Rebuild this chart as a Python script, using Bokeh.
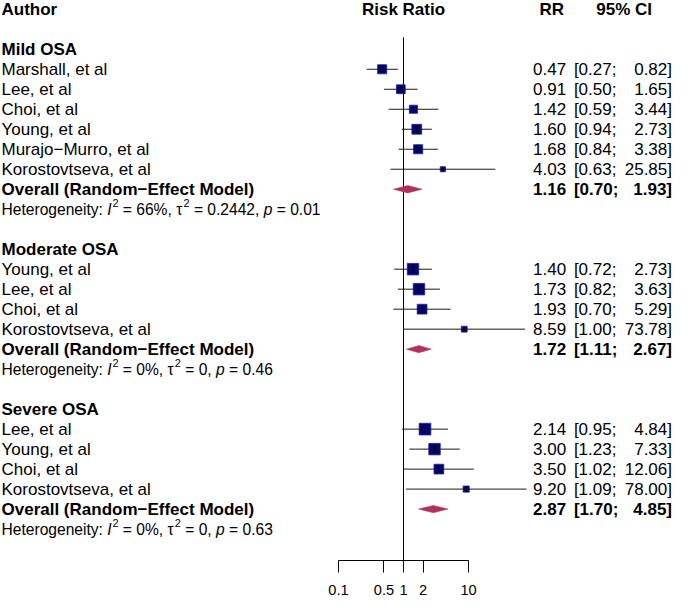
import numpy as np
from bokeh.plotting import figure
from bokeh.models import Range1d, FixedTicker, CustomJSTickFormatter
from bokeh.core.properties import value
from bokeh.embed import file_html
from bokeh.resources import INLINE

# ---------------- data ----------------
groups = ["Mild OSA", "Moderate OSA", "Severe OSA"]

mild_names = ["Marshall, et al", "Lee, et al", "Choi, et al", "Young, et al",
              "Murajo\u2212Murro, et al", "Korostovtseva, et al"]
mild_rr = [0.47, 0.91, 1.42, 1.60, 1.68, 4.03]
mild_lo = [0.27, 0.50, 0.59, 0.94, 0.84, 0.63]
mild_hi = [0.82, 1.65, 3.44, 2.73, 3.38, 25.85]
mild_w = [6.8, 6.3, 5.4, 7.8, 6.8, 2.2]

mod_names = ["Young, et al", "Lee, et al", "Choi, et al", "Korostovtseva, et al"]
mod_rr = [1.40, 1.73, 1.93, 8.59]
mod_lo = [0.72, 0.82, 0.70, 1.00]
mod_hi = [2.73, 3.63, 5.29, 73.78]
mod_w = [10.7, 10.7, 7.8, 2.8]

sev_names = ["Lee, et al", "Young, et al", "Choi, et al", "Korostovtseva, et al"]
sev_rr = [2.14, 3.00, 3.50, 9.20]
sev_lo = [0.95, 1.23, 1.02, 1.09]
sev_hi = [4.84, 7.33, 12.06, 78.00]
sev_w = [11.2, 10.7, 7.8, 3.1]

overall_rr = [1.16, 1.72, 2.87]
overall_lo = [0.70, 1.11, 1.70]
overall_hi = [1.93, 2.67, 4.85]

het_i2 = [66, 0, 0]
het_tau2 = [0.2442, 0, 0]
het_p = [0.01, 0.46, 0.63]

tick_values = [0.1, 0.5, 1, 2, 10]
tick_labels = ["0.1", "0.5", "1", "2", "10"]

# ---------------- layout constants ----------------
W, H = 673, 597
FH = 560.5          # expected frame height (axis panel below)
X1 = 403.0          # pixel of RR = 1
DEC = 65.05         # pixels per decade
ROW = 20.01         # pixels per row
ROW0 = 8.8          # pixel of row 0
LEFT = 1
RR_RIGHT = 565.6
CI_LEFT = 573.4
CI_RIGHT = 671.5
CI_HEAD = 623.7
FONT = "Liberation Sans"
FS = "17px"
HET_FS = 15.6
SUP_FS = 10.9
SQ_K = 3.5
DIAM_H = 3.7

def px2x(px):
    return 10 ** ((px - X1) / DEC)

AW = {' ': 278, ':': 278, ',': 278, '.': 278, '=': 584, '%': 889, 'H': 722,
      'e': 556, 't': 278, 'r': 333, 'o': 556, 'g': 556, 'n': 556, 'i': 222,
      'y': 500, 'I': 278, 'p': 556, '\u03c4': 470}

def tw(s, fs=HET_FS):
    return sum(AW.get(c, 556) for c in s) / 1000.0 * fs

r_top = -ROW0 / ROW
r_bot = (FH - ROW0) / ROW

p = figure(width=W, height=H, output_backend="svg", toolbar_location=None,
           x_axis_type="log", y_axis_location=None,
           x_range=Range1d(px2x(0), px2x(W)), y_range=Range1d(r_bot, r_top),
           min_border=0, min_border_left=0, min_border_right=0, min_border_top=0)
p.outline_line_color = None
p.grid.visible = False
p.background_fill_color = "white"
p.border_fill_color = "white"

ax = p.xaxis[0]
ax.ticker = FixedTicker(ticks=tick_values, minor_ticks=[])
ax.formatter = CustomJSTickFormatter(args=dict(labels=tick_labels, vals=tick_values),
                                     code="const i = vals.indexOf(tick); return i >= 0 ? labels[i] : String(tick);")
ax.bounds = (min(tick_values), max(tick_values))
ax.axis_line_color = "black"
ax.axis_line_width = 1
ax.major_tick_line_color = "black"
ax.major_tick_line_width = 1
ax.major_tick_in = 0
ax.major_tick_out = 12
ax.minor_tick_in = 0
ax.minor_tick_out = 0
ax.major_label_text_font = FONT
ax.major_label_text_font_size = "14.6px"
ax.major_label_text_color = "black"
ax.major_label_standoff = 12

# ---------------- rows ----------------
study_sets = [(mild_names, mild_rr, mild_lo, mild_hi, mild_w),
              (mod_names, mod_rr, mod_lo, mod_hi, mod_w),
              (sev_names, sev_rr, sev_lo, sev_hi, sev_w)]

group_rows, s_rows, s_names, s_rr, s_lo, s_hi, s_w = [], [], [], [], [], [], []
ov_rows, het_rows = [], []
r = 2
for names, rr, lo, hi, w in study_sets:
    group_rows.append(r)
    r += 1
    for i in range(len(names)):
        s_rows.append(r); s_names.append(names[i]); s_rr.append(rr[i])
        s_lo.append(lo[i]); s_hi.append(hi[i]); s_w.append(w[i])
        r += 1
    ov_rows.append(r); r += 1
    het_rows.append(r); r += 2

sides = [SQ_K * np.sqrt(w) for w in s_w]

def txt(xs, ys, texts, align="left", style="normal", size=FS, yoff=0):
    p.text(x=xs, y=ys, text=texts, text_font=value(FONT), text_font_size=size,
           text_font_style=style, text_align=align, text_baseline="middle",
           text_color="black", y_offset=yoff)

# reference line at RR = 1
p.segment(x0=[1], y0=[1.4], x1=[1], y1=[r_bot], line_color="black", line_width=1)

# study squares, CI lines, point marks
p.scatter(x=s_rr, y=s_rows, marker="square", size=sides,
          fill_color="#000080", line_color="#23238f", line_width=0.8)
p.segment(x0=s_lo, y0=s_rows, x1=s_hi, y1=s_rows, line_color="#1a1a1a", line_width=1)
p.scatter(x=s_rr, y=s_rows, marker="dash", angle=np.pi / 2,
          size=[0.8 * s for s in sides], line_color="black", line_width=1)

# diamonds
dh = DIAM_H / ROW
xs = [[lo, est, hi, est] for lo, est, hi in zip(overall_lo, overall_rr, overall_hi)]
ys = [[rw, rw - dh, rw, rw + dh] for rw in ov_rows]
p.patches(xs=xs, ys=ys, fill_color="#B03060", line_color="#B03060", line_width=0.5)

# headers
txt([px2x(LEFT)], [0], ["Author"], style="bold")
txt([1], [0], ["Risk Ratio"], align="center", style="bold")
txt([px2x(RR_RIGHT - 2)], [0], ["RR"], align="right", style="bold")
txt([px2x(CI_HEAD)], [0], ["95% CI"], align="center", style="bold")

# group labels
txt([px2x(LEFT)] * len(groups), group_rows, groups, style="bold")

# study text
txt([px2x(LEFT)] * len(s_names), s_rows, s_names)
txt([px2x(RR_RIGHT)] * len(s_rr), s_rows, [f"{v:.2f}" for v in s_rr], align="right")
txt([px2x(CI_LEFT)] * len(s_lo), s_rows, [f"[{v:.2f};" for v in s_lo])
txt([px2x(CI_RIGHT)] * len(s_hi), s_rows, [f"{v:.2f}]" for v in s_hi], align="right")

# overall text
ov_label = "Overall (Random\u2212Effect Model)"
txt([px2x(LEFT)] * len(ov_rows), ov_rows, [ov_label] * len(ov_rows), style="bold")
txt([px2x(RR_RIGHT)] * len(ov_rows), ov_rows, [f"{v:.2f}" for v in overall_rr], align="right", style="bold")
txt([px2x(CI_LEFT)] * len(ov_rows), ov_rows, [f"[{v:.2f};" for v in overall_lo], style="bold")
txt([px2x(CI_RIGHT)] * len(ov_rows), ov_rows, [f"{v:.2f}]" for v in overall_hi], align="right", style="bold")

# heterogeneity lines
nx, ny, nt, ix, iy, it, sx, sy, st = [], [], [], [], [], [], [], [], []
for gi, rw in enumerate(het_rows):
    s_i2 = f"= {het_i2[gi]}%,"
    s_tau = f"= {het_tau2[gi]:g},"
    s_p = f"= {het_p[gi]:.2f}"
    cur = LEFT
    nx.append(cur); ny.append(rw); nt.append("Heterogeneity:")
    cur += tw("Heterogeneity: ")
    ix.append(cur); iy.append(rw); it.append("I")
    cur += tw("I") + 0.8
    sx.append(cur); sy.append(rw); st.append("2")
    cur += tw("2", SUP_FS) + tw(" ")
    nx.append(cur); ny.append(rw); nt.append(s_i2)
    cur += tw(s_i2 + " ")
    nx.append(cur); ny.append(rw); nt.append("\u03c4")
    cur += tw("\u03c4")
    sx.append(cur); sy.append(rw); st.append("2")
    cur += tw("2", SUP_FS) + tw(" ")
    nx.append(cur); ny.append(rw); nt.append(s_tau)
    cur += tw(s_tau + " ")
    ix.append(cur); iy.append(rw); it.append("p")
    cur += tw("p") + tw(" ")
    nx.append(cur); ny.append(rw); nt.append(s_p)

hfs = f"{HET_FS}px"
txt([px2x(v) for v in nx], ny, nt, size=hfs)
txt([px2x(v) for v in ix], iy, it, size=hfs, style="italic")
txt([px2x(v) for v in sx], sy, st, size=f"{SUP_FS}px", yoff=-6)

open("out.html", "w").write(file_html(p, INLINE))
